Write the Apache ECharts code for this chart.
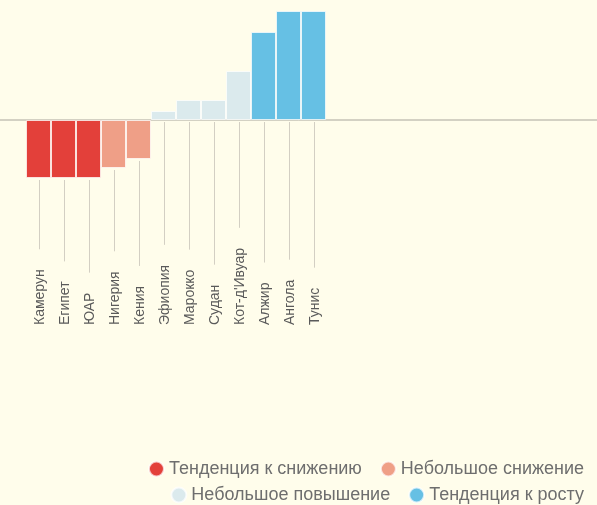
<!DOCTYPE html>
<html>
<head>
<meta charset="utf-8">
<script src="https://cdn.jsdelivr.net/npm/echarts@6/dist/echarts.min.js"></script>
<style>
  html, body { margin: 0; padding: 0; background: #fffdeb; }
  #chart { width: 597px; height: 505px; }
</style>
</head>
<body>
<div id="chart"></div>
<script>
const countries = ["Камерун", "Египет", "ЮАР", "Нигерия", "Кения", "Эфиопия", "Марокко", "Судан", "Кот-д'Ивуар", "Алжир", "Ангола", "Тунис"];
const values = [-5.8, -5.8, -5.8, -4.8, -3.9, 0.9, 2.0, 2.0, 4.9, 8.8, 10.9, 10.9];
// which trend group each country belongs to (index into groupNames)
const groupOf = [0, 0, 0, 1, 1, 2, 2, 2, 2, 3, 3, 3];
const groupNames = ["Тенденция к снижению", "Небольшое снижение", "Небольшое повышение", "Тенденция к росту"];
const groupColors = ["#e3403a", "#ef9f87", "#dbeaed", "#66c0e4"];

const fontName = "Liberation Sans";
const labelFont = "14px '" + fontName + "'";
const labelBase = 325; // y where the rotated labels start
const ctx = document.createElement("canvas").getContext("2d");
ctx.font = labelFont;
function textWidth(s) {
    return ctx.measureText(s).width;
}

const chart = echarts.init(document.getElementById("chart"));

const barSeries = groupNames.map(function (name, g) {
    return {
        name: name,
        type: "bar",
        barGap: "-100%",
        barCategoryGap: 0,
        data: values.map(function (v, i) {
            return groupOf[i] === g ? v : null;
        }),
        itemStyle: {
            color: groupColors[g],
            borderColor: "rgba(255,255,255,0.7)",
            borderWidth: 1
        },
        emphasis: { disabled: true },
        z: 3
    };
});

const legendBase = {
    right: 8,
    icon: "circle",
    itemWidth: 15,
    itemHeight: 15,
    itemGap: 18,
    textStyle: { color: "#6e6e6e", fontSize: 18, fontFamily: fontName },
    selectedMode: false
};

const option = {
    backgroundColor: "#fffdeb",
    animation: false,
    grid: { left: 26, width: 300, top: 10, height: 230 },
    xAxis: {
        type: "category",
        data: countries,
        axisLine: { show: false },
        axisTick: { show: false },
        axisLabel: { show: false }
    },
    yAxis: {
        type: "value",
        min: -12,
        max: 11,
        show: false
    },
    legend: [
        Object.assign({}, legendBase, { data: groupNames.slice(0, 2), top: 455 }),
        Object.assign({}, legendBase, { data: groupNames.slice(2, 4), top: 481 })
    ],
    series: barSeries.concat([
        {
            // baseline across the full width
            type: "custom",
            data: [0],
            silent: true,
            z: 1,
            renderItem: function (params, api) {
                const y = api.coord([0, 0])[1];
                return {
                    type: "line",
                    shape: { x1: 0, y1: y, x2: api.getWidth(), y2: y },
                    style: { stroke: "#a8a59b", lineWidth: 1 }
                };
            }
        },
        {
            // drop lines and rotated country names
            type: "custom",
            data: values.map(function (v, i) { return [i, v]; }),
            silent: true,
            z: 2,
            renderItem: function (params, api) {
                const i = api.value(0);
                const v = api.value(1);
                const bottom = api.coord([i, Math.min(v, 0)]);
                const x = Math.round(bottom[0]) + 0.5;
                const name = countries[i];
                const top = labelBase - textWidth(name) - 20;
                return {
                    type: "group",
                    children: [
                        {
                            type: "line",
                            shape: { x1: x, y1: bottom[1] + 2, x2: x, y2: top },
                            style: { stroke: "#d3cfc3", lineWidth: 1 }
                        },
                        {
                            type: "text",
                            x: x + 1,
                            y: labelBase,
                            rotation: Math.PI / 2,
                            style: {
                                text: name,
                                font: labelFont,
                                fill: "#5a5a5a",
                                align: "left",
                                verticalAlign: "middle"
                            }
                        }
                    ]
                };
            }
        }
    ])
};

chart.setOption(option);
</script>
</body>
</html>
